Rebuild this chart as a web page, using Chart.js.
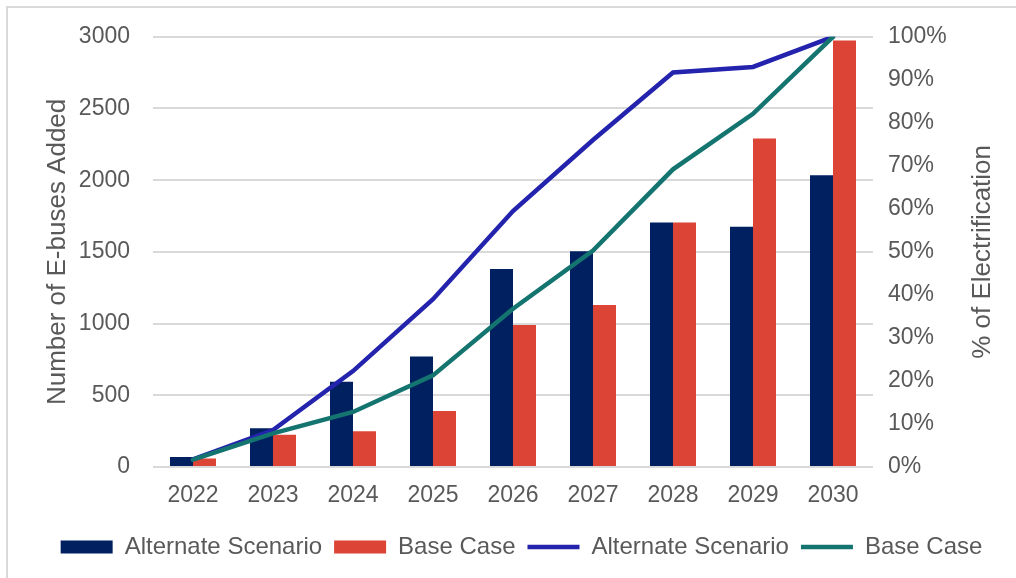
<!DOCTYPE html>
<html>
<head>
<meta charset="utf-8">
<script src="https://cdn.jsdelivr.net/npm/chart.js@4.4.1/dist/chart.umd.min.js"></script>
<style>
  html, body { margin: 0; padding: 0; background: #fff; }
  #wrap { position: relative; width: 1016px; height: 578px; }
  #frame { position: absolute; left: 6px; top: 6px; right: 0; bottom: 0;
           border-left: 2px solid #d9d9d9; border-top: 2px solid #d9d9d9; }
  #plot { position: absolute; left: 0; top: 0; }
</style>
</head>
<body>
<div id="wrap">
  <div id="frame"></div>
  <canvas id="plot" width="1016" height="578"></canvas>
</div>
<script>
const years = ['2022', '2023', '2024', '2025', '2026', '2027', '2028', '2029', '2030'];

// e-buses added per year
const busesAlternate = [70, 270, 595, 770, 1380, 1505, 1705, 1675, 2035];
const busesBase = [60, 225, 250, 390, 990, 1130, 1705, 2290, 2975];

// share of fleet electrified (0..1)
const elecAlternate = [0.018, 0.086, 0.223, 0.39, 0.595, 0.76, 0.917, 0.93, 1.0];
const elecBase = [0.017, 0.078, 0.128, 0.213, 0.368, 0.503, 0.692, 0.821, 1.0];

const leftTicks = { min: 0, max: 3000, step: 500 };
const rightTicks = { min: 0, max: 1, step: 0.1 };

const fontFamily = '"Liberation Sans", Arial, sans-serif';
const textColor = '#595959';

// right axis title reads bottom-to-top, chart.js only rotates it the other way
const rightTitle = {
    id: 'rightTitle',
    afterDraw(chart) {
        const c = chart.ctx;
        const area = chart.chartArea;
        c.save();
        c.translate(983, (area.top + area.bottom) / 2);
        c.rotate(-Math.PI / 2);
        c.font = '26px ' + fontFamily;
        c.fillStyle = textColor;
        c.textAlign = 'center';
        c.textBaseline = 'middle';
        c.fillText('% of Electrification', 0, 0);
        c.restore();
    }
};

const ctx = document.getElementById('plot');

var chart = new Chart(ctx, {
    type: 'bar',
    data: {
        labels: years,
        datasets: [{
            label: 'Alternate Scenario',
            data: busesAlternate,
            backgroundColor: '#002060',
            borderWidth: 0,
            yAxisID: 'y',
            order: 2
        }, {
            label: 'Base Case',
            data: busesBase,
            backgroundColor: '#dc4435',
            borderWidth: 0,
            yAxisID: 'y',
            order: 2
        }, {
            type: 'line',
            label: 'Alternate Scenario',
            data: elecAlternate,
            borderColor: '#2323ad',
            backgroundColor: '#2323ad',
            borderWidth: 4.5,
            borderCapStyle: 'round',
            pointRadius: 0,
            tension: 0,
            yAxisID: 'y1',
            order: 1
        }, {
            type: 'line',
            label: 'Base Case',
            data: elecBase,
            borderColor: '#14746f',
            backgroundColor: '#14746f',
            borderWidth: 4.5,
            borderCapStyle: 'round',
            pointRadius: 0,
            tension: 0,
            yAxisID: 'y1',
            order: 0
        }]
    },
    options: {
        responsive: false,
        animation: false,
        layout: { padding: { left: 27, right: 0, top: 36, bottom: 9 } },
        datasets: {
            bar: { categoryPercentage: 0.575, barPercentage: 1 }
        },
        plugins: {
            tooltip: { enabled: false },
            legend: {
                position: 'bottom',
                labels: {
                    usePointStyle: true,
                    pointStyleWidth: 52,
                    boxHeight: 13,
                    padding: 12,
                    color: textColor,
                    font: { family: fontFamily, size: 24 },
                    sort: (a, b) => a.datasetIndex - b.datasetIndex,
                    generateLabels(chart) {
                        const items = Chart.defaults.plugins.legend.labels.generateLabels(chart);
                        items.forEach(function (it) {
                            const ds = chart.data.datasets[it.datasetIndex];
                            it.pointStyle = ds.type === 'line' ? 'line' : 'rect';
                            if (ds.type !== 'line') it.lineWidth = 0;
                        });
                        return items;
                    }
                }
            }
        },
        scales: {
            x: {
                grid: { display: false, drawTicks: false },
                border: { display: false },
                ticks: {
                    color: textColor,
                    padding: 15,
                    font: { family: fontFamily, size: 23 }
                },
                afterFit(scale) { scale.height = 56; }
            },
            y: {
                position: 'left',
                min: leftTicks.min,
                max: leftTicks.max,
                ticks: {
                    stepSize: leftTicks.step,
                    color: textColor,
                    padding: 23,
                    font: { family: fontFamily, size: 23 },
                    callback: v => String(v)
                },
                grid: { color: '#d9d9d9', lineWidth: 2, drawTicks: false },
                border: { display: false },
                title: {
                    display: true,
                    text: 'Number of E-buses Added',
                    color: textColor,
                    font: { family: fontFamily, size: 26 },
                    padding: { top: 15, bottom: 0 }
                },
                afterFit(scale) { scale.width = 126; }
            },
            y1: {
                position: 'right',
                min: rightTicks.min,
                max: rightTicks.max,
                ticks: {
                    stepSize: rightTicks.step,
                    color: textColor,
                    padding: 15,
                    font: { family: fontFamily, size: 23 },
                    callback: function (v) { return Math.round(v * 100) + '%'; }
                },
                grid: { display: false, drawTicks: false },
                border: { display: false },
                afterFit(scale) { scale.width = 143; }
            }
        }
    },
    plugins: [rightTitle]
});
</script>
</body>
</html>
